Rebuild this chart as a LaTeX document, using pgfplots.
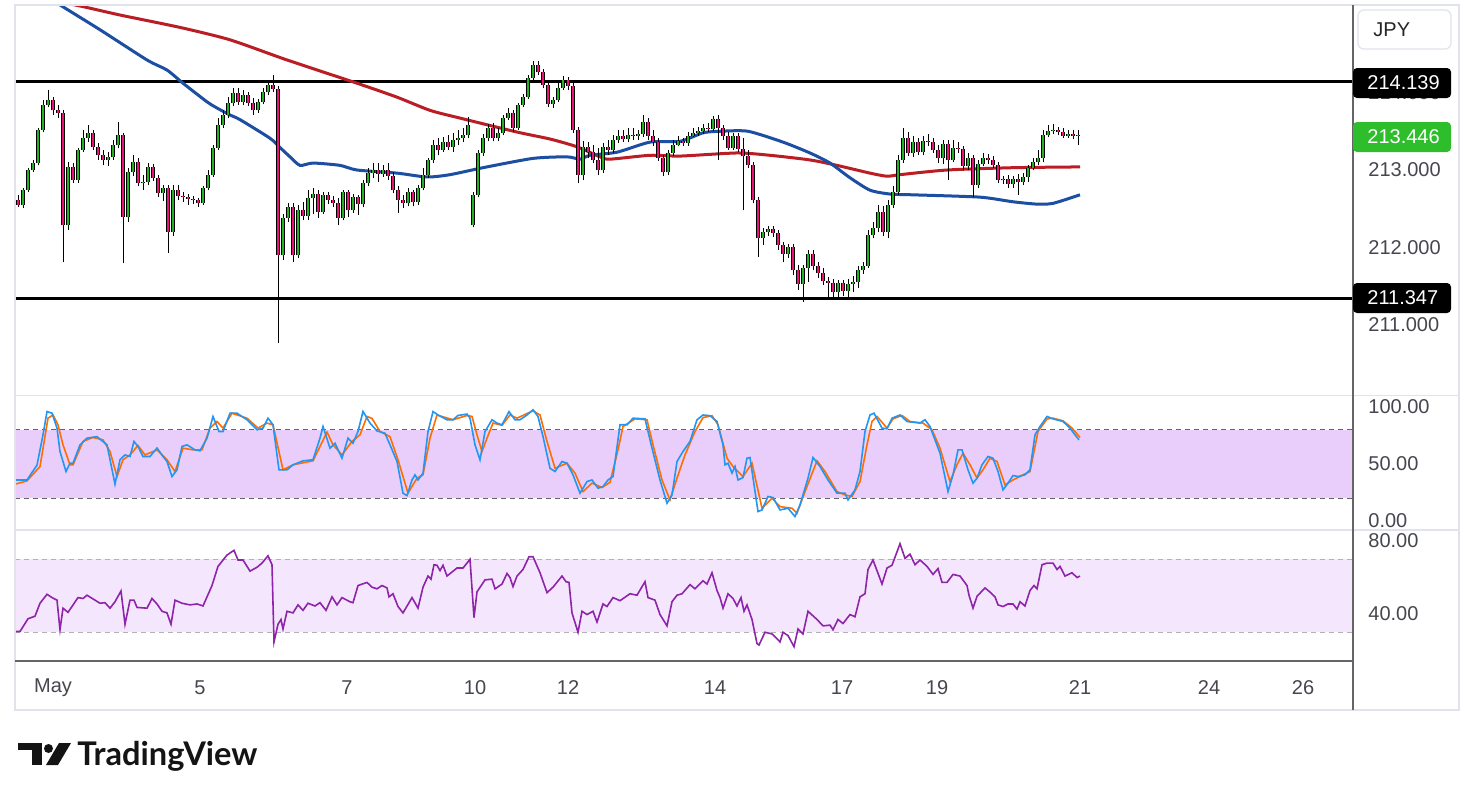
\documentclass[border=0pt]{standalone}
\usepackage{fontspec}
\setmainfont{Liberation Sans}
\newfontfamily\tvlogo{Lato}
\usepackage{pgfplots}
\usepackage{pgfplotstable}
\pgfplotsset{compat=1.18}
\definecolor{cup}{RGB}{38,176,38}
\definecolor{cdn}{RGB}{232,20,120}
\definecolor{mablue}{RGB}{28,78,162}
\definecolor{mared}{RGB}{186,30,36}
\definecolor{stk}{RGB}{33,150,243}
\definecolor{std}{RGB}{255,109,0}
\definecolor{rsic}{RGB}{142,36,170}
\definecolor{stband}{RGB}{233,206,251}
\definecolor{rsiband}{RGB}{244,230,253}
\definecolor{tvtext}{RGB}{70,70,78}
\definecolor{gridl}{RGB}{224,227,235}
\definecolor{axisdark}{RGB}{100,100,105}
\definecolor{pgreen}{RGB}{46,189,43}
\newcommand{\tf}{\fontsize{10}{12}\selectfont}
\pgfplotsset{candle/.style={only marks, mark size=0pt, mark options={draw=none, fill=none}}}

\pgfplotstableread{
x o h l c
18 212.61 212.68 212.52 212.55
23 212.55 212.77 212.51 212.74
28 212.74 213.03 212.72 213.00
33 213.00 213.13 212.97 213.09
38 213.09 213.54 213.06 213.52
43 213.52 213.90 213.49 213.84
48 213.84 214.03 213.81 213.90
53 213.90 213.94 213.71 213.77
58 213.77 213.84 213.67 213.74
63 213.74 213.77 211.81 212.29
68 212.29 213.10 212.23 213.04
73 213.04 213.09 212.83 212.87
78 212.87 213.28 212.83 213.26
83 213.26 213.52 213.23 213.41
88 213.41 213.58 213.36 213.48
93 213.48 213.52 213.26 213.30
98 213.30 213.35 213.13 213.19
103 213.19 213.26 213.06 213.13
108 213.13 213.23 213.05 213.17
113 213.17 213.39 213.13 213.32
118 213.32 213.62 213.28 213.45
123 213.45 213.48 211.80 212.39
128 212.39 213.03 212.33 212.97
133 212.97 213.19 212.92 213.10
138 213.10 213.15 212.79 212.83
143 212.83 212.94 212.74 212.85
148 212.85 213.09 212.81 213.04
153 213.04 213.08 212.86 212.90
158 212.90 212.94 212.65 212.70
163 212.70 212.81 212.60 212.77
168 212.77 212.81 211.93 212.20
173 212.20 212.81 212.15 212.74
178 212.74 212.81 212.61 212.66
183 212.66 212.72 212.59 212.65
188 212.65 212.69 212.55 212.63
193 212.63 212.66 212.56 212.61
198 212.61 212.64 212.52 212.57
203 212.57 212.79 212.55 212.77
208 212.77 213.00 212.74 212.94
213 212.94 213.32 212.91 213.28
218 213.28 213.67 213.26 213.58
223 213.58 213.77 213.54 213.71
228 213.71 213.94 213.67 213.86
233 213.86 214.06 213.83 213.99
238 213.99 214.06 213.84 213.88
243 213.88 214.03 213.84 213.97
248 213.97 214.01 213.83 213.86
253 213.86 213.93 213.71 213.77
258 213.77 213.92 213.74 213.88
263 213.88 214.06 213.85 214.01
268 214.01 214.15 213.97 214.10
273 214.10 214.23 214.01 214.05
278 214.05 214.08 210.77 211.90
283 211.90 212.43 211.84 212.38
288 212.38 212.57 212.33 212.52
293 212.52 212.57 211.81 211.90
298 211.90 212.55 211.86 212.48
303 212.48 212.59 212.35 212.41
308 212.41 212.74 212.35 212.64
313 212.64 212.77 212.43 212.69
318 212.69 212.74 212.38 212.46
323 212.46 212.72 212.43 212.68
328 212.68 212.72 212.56 212.61
333 212.61 212.66 212.52 212.57
338 212.57 212.64 212.29 212.38
343 212.38 212.74 212.35 212.72
348 212.72 212.74 212.39 212.48
353 212.48 212.69 212.45 212.65
358 212.65 212.68 212.42 212.56
363 212.56 212.87 212.52 212.83
368 212.83 213.03 212.79 212.96
373 212.96 213.09 212.90 213.00
378 213.00 213.09 212.85 212.95
383 212.95 213.06 212.91 213.00
388 213.00 213.09 212.87 212.92
393 212.92 212.97 212.70 212.74
398 212.74 212.79 212.45 212.61
403 212.61 212.68 212.51 212.57
408 212.57 212.77 212.53 212.72
413 212.72 212.74 212.53 212.59
418 212.59 212.81 212.55 212.77
423 212.77 213.03 212.74 212.94
428 212.94 213.15 212.90 213.13
433 213.13 213.39 213.09 213.32
438 213.32 213.41 213.19 213.26
443 213.26 213.43 213.23 213.36
448 213.36 213.45 213.26 213.30
453 213.30 213.48 213.23 213.39
458 213.39 213.52 213.32 213.41
463 213.41 213.54 213.36 213.45
468 213.45 213.68 213.41 213.58
473 212.29 212.71 212.26 212.68
478 212.68 213.26 212.65 213.22
483 213.22 213.46 213.18 213.41
488 213.41 213.59 213.37 213.54
493 213.54 213.61 213.37 213.41
498 213.41 213.54 213.37 213.48
503 213.48 213.71 213.45 213.67
508 213.67 213.80 213.65 213.74
513 213.74 213.77 213.49 213.54
518 213.54 213.86 213.52 213.84
523 213.84 213.98 213.81 213.94
528 213.94 214.23 213.92 214.19
533 214.19 214.41 214.16 214.35
538 214.35 214.41 214.23 214.26
543 214.26 214.30 214.06 214.10
548 214.10 214.14 213.81 213.85
553 213.85 213.94 213.80 213.90
558 213.90 214.12 213.88 214.06
563 214.06 214.21 214.03 214.16
568 214.16 214.20 214.03 214.08
573 214.08 214.12 213.48 213.52
578 213.52 213.55 212.83 212.94
583 212.94 213.37 212.87 213.30
588 213.30 213.36 213.15 213.23
593 213.23 213.32 213.09 213.13
598 213.13 213.28 212.94 213.00
603 213.00 213.35 212.96 213.30
608 213.30 213.39 213.19 213.26
613 213.26 213.45 213.22 213.39
618 213.39 213.52 213.35 213.44
623 213.44 213.52 213.36 213.40
628 213.40 213.54 213.36 213.45
633 213.45 213.54 213.39 213.44
638 213.44 213.52 213.39 213.46
643 213.46 213.71 213.43 213.62
648 213.62 213.67 213.39 213.44
653 213.44 213.52 213.31 213.36
658 213.36 213.41 213.12 213.15
663 213.15 213.19 212.92 212.97
668 212.97 213.26 212.94 213.22
673 213.22 213.39 213.18 213.32
678 213.32 213.44 213.31 213.37
683 213.37 213.41 213.31 213.35
688 213.35 213.49 213.31 213.44
693 213.44 213.54 213.43 213.48
698 213.48 213.55 213.44 213.50
703 213.50 213.59 213.46 213.54
708 213.54 213.61 213.49 213.53
713 213.53 213.70 213.50 213.66
718 213.66 213.71 213.13 213.54
723 213.54 213.58 213.39 213.44
728 213.44 213.49 213.26 213.28
733 213.28 213.48 213.26 213.44
738 213.44 213.48 213.23 213.27
743 213.27 213.41 212.48 213.18
748 213.18 213.26 213.03 213.06
753 213.06 213.10 212.57 212.61
758 212.61 212.65 211.88 212.12
763 212.12 212.25 212.03 212.20
768 212.20 212.28 212.15 212.24
773 212.24 212.28 212.14 212.19
778 212.19 212.23 211.97 212.03
783 212.03 212.07 211.81 211.92
788 211.92 212.05 211.86 212.01
793 212.01 212.05 211.65 211.71
798 211.71 211.77 211.45 211.53
803 211.53 211.78 211.30 211.74
808 211.74 211.97 211.56 211.92
813 211.92 211.97 211.71 211.76
818 211.76 211.81 211.61 211.67
823 211.67 211.74 211.52 211.57
828 211.57 211.62 211.36 211.54
833 211.54 211.59 211.32 211.43
838 211.43 211.58 211.35 211.54
843 211.54 211.58 211.37 211.44
848 211.44 211.59 211.36 211.53
853 211.53 211.63 211.43 211.56
858 211.56 211.76 211.48 211.71
863 211.71 211.81 211.66 211.76
868 211.76 212.23 211.74 212.16
873 212.16 212.33 212.12 212.25
878 212.25 212.55 212.20 212.46
883 212.46 212.54 212.15 212.20
888 212.20 212.61 212.12 212.55
893 212.55 212.79 212.51 212.72
898 212.72 213.19 212.68 213.13
903 213.13 213.54 213.09 213.41
908 213.41 213.49 213.18 213.22
913 213.22 213.44 213.17 213.36
918 213.36 213.41 213.19 213.23
923 213.23 213.44 213.19 213.37
928 213.37 213.46 213.31 213.36
933 213.36 213.41 213.22 213.26
938 213.26 213.32 213.09 213.15
943 213.15 213.39 213.08 213.34
948 213.34 213.39 212.87 213.13
953 213.13 213.39 213.10 213.28
958 213.28 213.36 213.22 213.27
963 213.27 213.31 213.00 213.05
968 213.05 213.22 213.00 213.15
973 213.15 213.19 212.65 212.81
978 212.81 213.13 212.77 213.08
983 213.08 213.22 213.05 213.15
988 213.15 213.21 213.08 213.13
993 213.13 213.18 213.03 213.06
998 213.06 213.10 212.83 212.87
1003 212.87 212.92 212.82 212.88
1008 212.88 212.94 212.77 212.82
1013 212.82 212.92 212.77 212.88
1018 212.88 212.95 212.68 212.85
1023 212.85 212.96 212.81 212.91
1028 212.91 213.06 212.85 213.03
1033 213.03 213.15 213.00 213.10
1038 213.10 213.26 213.06 213.15
1043 213.15 213.52 213.10 213.45
1048 213.45 213.58 213.43 213.50
1053 213.50 213.59 213.46 213.52
1058 213.52 213.55 213.45 213.49
1063 213.49 213.54 213.41 213.44
1068 213.44 213.52 213.41 213.46
1073 213.46 213.52 213.40 213.44
1078 213.44 213.51 213.32 213.446
}\candles

\begin{document}
\begin{tikzpicture}
\useasboundingbox (0,0) rectangle (736.5pt,-400pt);
\fill[white] (0,0) rectangle (736.5pt,-400pt);

% ---------- price panel ----------
\begin{axis}[at={(7.5pt,-197.5pt)}, anchor=south west, scale only axis,
  width=669pt, height=195pt,
  xmin=15, xmax=1353, ymin=210.097, ymax=215.129,
  axis line style={draw=none}, major tick length=0pt, tick style={draw=none},
  xtick=\empty, ytick={211,212,213,214},
  yticklabels={211.000,212.000,213.000,214.000},
  yticklabel pos=right,
  yticklabel style={anchor=west, inner sep=0pt, xshift=7.5pt, font=\tf, text=tvtext}]
\addplot[black, line width=1.5pt] coordinates {(15,214.139) (1353,214.139)};
\addplot[black, line width=1.5pt] coordinates {(15,211.347) (1353,211.347)};
\addplot[mared, line width=1.5pt, smooth, tension=0.4] coordinates {
(18,215.26) (75,215.13) (120,215.00) (180,214.84) (230,214.68) (287,214.42)
(357,214.12) (397,213.94) (430,213.77) (460,213.67) (517,213.49) (550,213.40)
(577,213.30) (600,213.17) (610,213.14) (650,213.19) (680,213.18) (737,213.22)
(770,213.19) (810,213.13) (837,213.06) (870,212.96) (887,212.92) (900,212.94)
(947,213.00) (1013,213.03) (1080,213.04)};
\addplot[mablue, line width=1.5pt, smooth, tension=0.4] coordinates {
(40,215.30) (60,215.13) (100,214.81) (147,214.42) (167,214.29) (183,214.12)
(207,213.88) (217,213.80) (230,213.71) (240,213.65) (270,213.41) (280,213.29)
(290,213.17) (300,213.06) (313,213.09) (340,213.06) (357,213.00) (397,212.96)
(427,212.91) (450,212.94) (483,213.03) (533,213.15) (567,213.17) (580,213.14)
(590,213.19) (617,213.23) (650,213.36) (680,213.37) (703,213.48) (720,213.50)
(748,213.50) (783,213.36) (810,213.22) (830,213.09) (850,212.90) (870,212.74)
(890,212.69) (913,212.68) (980,212.65) (1013,212.59) (1037,212.56) (1053,212.57)
(1080,212.68)};
% wicks
\addplot[candle, error bars/.cd, y dir=plus, y explicit, error mark=none,
  error bar style={draw=black, line width=0.5pt}]
  table[x=x, y=l, y error plus expr=\thisrow{h}-\thisrow{l}] {\candles};
% bodies up
\addplot[candle, restrict expr to domain={\thisrow{c}-\thisrow{o}}{0:100},
  error bars/.cd, y dir=plus, y explicit, error mark=none,
  error bar style={draw=black, line width=1.7pt}]
  table[x=x, y=o, y error plus expr=\thisrow{c}-\thisrow{o}] {\candles};
\addplot[candle, restrict expr to domain={\thisrow{c}-\thisrow{o}}{0:100},
  error bars/.cd, y dir=plus, y explicit, error mark=none,
  error bar style={draw=cup, line width=0.9pt}]
  table[x=x, y=o, y error plus expr=\thisrow{c}-\thisrow{o}] {\candles};
% bodies down
\addplot[candle, restrict expr to domain={\thisrow{o}-\thisrow{c}}{0.0001:100},
  error bars/.cd, y dir=plus, y explicit, error mark=none,
  error bar style={draw=black, line width=1.7pt}]
  table[x=x, y=c, y error plus expr=\thisrow{o}-\thisrow{c}] {\candles};
\addplot[candle, restrict expr to domain={\thisrow{o}-\thisrow{c}}{0.0001:100},
  error bars/.cd, y dir=plus, y explicit, error mark=none,
  error bar style={draw=cdn, line width=0.9pt}]
  table[x=x, y=c, y error plus expr=\thisrow{o}-\thisrow{c}] {\candles};
\end{axis}

% ---------- stochastic panel ----------
\begin{axis}[at={(7.5pt,-265pt)}, anchor=south west, scale only axis,
  width=669pt, height=67pt,
  xmin=15, xmax=1353, ymin=-7.9, ymax=109.65,
  axis line style={draw=none}, major tick length=0pt, tick style={draw=none},
  xtick=\empty, ytick={0,50,100}, yticklabels={0.00,50.00,100.00},
  yticklabel pos=right,
  yticklabel style={anchor=west, inner sep=0pt, xshift=7.5pt, font=\tf, text=tvtext}]
\fill[stband] (axis cs:15,20) rectangle (axis cs:1353,80);
\draw[axisdark, line width=0.5pt, dash pattern=on 2.5pt off 2pt] (axis cs:15,80) -- (axis cs:1353,80);
\draw[axisdark, line width=0.5pt, dash pattern=on 2.5pt off 2pt] (axis cs:15,20) -- (axis cs:1353,20);
\addplot[std, line width=0.8pt] coordinates {
(15,32.3) (27,35.2) (40,47.8) (48,90.2) (53,93) (58,84.4) (63,66.8) (70,49.3) (73,49.3)
(83,69.8) (93,73.3) (103,71.2) (110,61) (117,39) (123,53.7) (130,58) (138,66.2) (145,58)
(157,62.4) (167,53.7) (175,43.4) (183,63.9) (193,62.4) (202,62.4) (210,81.5) (217,87.3)
(223,81.5) (232,94.6) (247,90.2) (258,81.5) (267,85.9) (273,84.4) (283,44.9) (293,49.3)
(313,52.8) (320,65.4) (327,78) (333,66.8) (342,58) (352,69.8) (360,75.6) (367,91.7)
(372,90) (380,78.5) (390,74) (398,53.7) (408,24.4) (417,37.6) (423,40.5) (430,72.7)
(437,93) (453,88.8) (467,92.6) (472,91.7) (477,75.6) (482,61) (487,72.7) (493,85.9)
(502,84) (510,93) (517,90.2) (533,96.7) (540,93) (547,69.8) (555,46.3) (567,50.7)
(575,42) (583,25.8) (592,33.2) (602,29.4) (610,34) (618,62.4) (623,82.9) (635,89.6)
(647,88.8) (653,66.8) (662,36) (670,18.5) (677,37.6) (685,58) (695,78.5) (703,90.7)
(712,92.4) (718,84.4) (727,55.1) (733,47.8) (743,39) (752,50.7) (762,11.2) (772,20)
(780,12.6) (792,11.2) (797,6.8) (805,25.8) (817,52.8) (825,43.4) (837,25.8) (845,22.9)
(852,21.5) (860,34.6) (867,66.8) (872,87.3) (877,91.7) (887,81.5) (893,89.6) (902,92.6)
(910,87.3) (923,85.9) (932,80) (940,63.9) (950,34.6) (957,49.3) (963,59.5) (970,49.3)
(977,37.6) (983,44.9) (990,55.1) (997,52.2) (1005,31.7) (1013,36) (1023,40.5) (1030,43.4)
(1038,78.5) (1047,89.6) (1053,90.2) (1063,87.9) (1072,81.5) (1080,73.3)};
\addplot[stk, line width=0.8pt] coordinates {
(15,36) (27,36) (37,49) (43,75.6) (47,96) (52,94.6) (57,81.5) (60,61) (66,43.4) (70,50.7)
(73,50.7) (80,66.8) (87,72.7) (97,74) (107,66.8) (115,32.3) (120,53.7) (125,58) (130,56.6)
(134,69.8) (138,65.4) (143,56.6) (150,56.6) (157,64) (163,56.6) (167,52.2) (172,39) (177,44.9)
(182,65.4) (187,66.8) (195,62.4) (200,61.6) (207,72.7) (213,91.7) (219,78.5) (223,78.5)
(230,94.6) (237,94.6) (247,88.8) (257,80) (263,81.5) (268,90.2) (273,84.4) (277,58) (279,44.9)
(287,44.9) (293,49.3) (303,52.8) (313,53.7) (320,72.7) (323,82.9) (330,63.9) (335,68.3)
(342,55.1) (348,72.7) (353,68.3) (358,78.5) (363,96.1) (370,85.9) (377,79) (385,77) (390,66.8)
(397,52.2) (403,24.4) (407,22.3) (412,36) (415,40.5) (418,36) (423,42) (428,78.5) (433,96)
(438,93) (447,88.8) (453,88.8) (458,92.6) (467,93.8) (470,90.2) (475,66.8) (480,53.7)
(485,78.5) (492,88.8) (497,85.9) (502,84.4) (509,96) (515,88.8) (520,88.8) (527,93)
(533,97.6) (538,91.7) (543,74.1) (550,46.3) (555,43.4) (562,52.2) (567,50.7) (573,40.5)
(580,24.4) (587,34.6) (592,36) (598,28.8) (603,30.2) (608,36) (613,39) (620,84.4) (627,84.4)
(633,90.2) (645,89.6) (652,63.9) (660,36) (667,15.6) (672,22.9) (677,52.2) (683,61) (690,69.8)
(697,88.8) (703,93) (710,92.4) (717,87.3) (723,66.8) (725,49.3) (728,50.7) (732,42) (735,47.8)
(738,36) (743,38.1) (747,55.1) (750,55.7) (758,8.3) (762,9.7) (768,21.5) (773,20.6) (780,9.7)
(788,11.2) (795,3.9) (800,14.1) (808,37.6) (813,55.7) (820,47.8) (828,36) (837,24.4) (845,24.4)
(848,18.5) (855,27.3) (860,43.4) (865,78.5) (870,93) (874,94.6) (882,81.5) (887,80.9) (892,90.2)
(900,93) (907,87.3) (920,85.9) (925,88.8) (930,82.9) (940,59.5) (948,25.8) (953,40.5) (958,62.4)
(962,62.4) (968,44.9) (973,33.2) (977,37.6) (982,49.3) (988,56.6) (993,55.1) (998,43.4)
(1003,27.3) (1008,33.2) (1013,39.9) (1018,39) (1025,40.5) (1030,44.9) (1035,75.6) (1040,82.9)
(1047,91.7) (1053,89.6) (1063,87.3) (1070,81.5) (1075,75.6) (1079,71.2)};
\end{axis}

% ---------- RSI panel ----------
\begin{axis}[at={(7.5pt,-330pt)}, anchor=south west, scale only axis,
  width=669pt, height=65pt,
  xmin=15, xmax=1353, ymin=14.79, ymax=86.03,
  axis line style={draw=none}, major tick length=0pt, tick style={draw=none},
  ytick={40,80}, yticklabels={40.00,80.00},
  yticklabel pos=right,
  yticklabel style={anchor=west, inner sep=0pt, xshift=7.5pt, font=\tf, text=tvtext},
  xtick={53,200,347,475,568,715,842,937,1080,1209,1303},
  xticklabels={May,5,7,10,12,14,17,19,21,24,26},
  xticklabel style={anchor=center, yshift=-14pt, font=\tf, text=tvtext}]
\fill[rsiband] (axis cs:15,30) rectangle (axis cs:1353,70);
\draw[gray!60, line width=0.5pt, dash pattern=on 2.5pt off 2pt] (axis cs:15,70) -- (axis cs:1353,70);
\draw[gray!60, line width=0.5pt, dash pattern=on 2.5pt off 2pt] (axis cs:15,30) -- (axis cs:1353,30);
\addplot[rsic, line width=0.8pt] coordinates {
(15,30.4) (20,30.4) (28,37.4) (35,38.8) (40,45.9) (47,50.8) (52,49) (57,47.6) (60,31.4)
(63,43.2) (68,40.9) (78,49) (83,48.5) (87,50.3) (100,45.9) (105,46.2) (110,43.2) (115,46.7)
(121,52.6) (125,34.4) (130,47.6) (134,47.6) (137,43.6) (147,43.2) (152,48.5) (157,45.5)
(162,41.5) (167,40.6) (171,34.4) (175,47.6) (182,45.9) (190,45) (197,45.5) (203,44.4)
(212,55.6) (218,66.1) (227,72.3) (234,74.9) (238,69.6) (243,69.6) (250,63.5) (257,65.6)
(262,67.9) (268,71.9) (272,67) (274,24.7) (278,34.4) (281,37) (283,31.8) (287,41.5)
(293,40.6) (298,45) (303,42) (308,45.9) (315,44.4) (320,46.2) (326,42) (332,49.4) (337,45)
(342,49) (350,46.7) (353,46.2) (358,55.6) (367,57.3) (372,54.7) (377,53.8) (382,55.6)
(387,54.3) (389,49.4) (393,51.1) (398,44.1) (403,40.6) (412,49) (418,43.2) (423,54.7)
(428,60.8) (431,59.1) (434,67) (437,66.7) (440,63.8) (443,66.7) (447,60.8) (457,65.2)
(463,65.2) (467,67.9) (470,70) (474,38) (477,52.1) (485,58.7) (492,59.1) (495,53.8)
(502,56.4) (507,62.2) (510,60) (513,55) (517,60.8) (523,64.4) (529,71.4) (533,71.4)
(540,62.6) (547,51.7) (553,54.7) (562,60.8) (566,57.7) (569,57.3) (572,40.6) (578,30)
(582,41.5) (587,39.7) (593,41.5) (597,35.6) (603,45.5) (607,44.1) (613,49) (620,47.3)
(630,51.1) (637,50.3) (645,57.7) (648,49) (655,47.6) (660,39.7) (667,33.5) (672,46.7)
(677,50.3) (682,51.1) (690,56.1) (695,53.8) (703,58.2) (707,56.4) (712,62.6) (717,52.9)
(720,49) (723,43.2) (728,51.1) (733,48.5) (737,44.4) (741,49) (744,41.5) (747,45) (752,37)
(757,23.8) (759,23) (765,30) (772,29.1) (777,26.5) (780,24.7) (783,30) (788,28.2) (794,22.1)
(798,31.8) (803,29.1) (808,41.5) (817,37) (823,33.5) (830,33.9) (833,31.4) (838,37) (843,34.8)
(850,39.7) (855,38.5) (860,49.4) (865,51.1) (868,64.4) (873,69.6) (882,56.4) (887,65.2)
(892,66.7) (900,78.5) (905,70.5) (910,72.8) (915,67) (920,69.6) (927,66.1) (933,61.7)
(938,64.9) (942,57.3) (947,57.3) (953,61.7) (960,60.8) (967,55.6) (969,50.3) (973,43.2)
(977,49.7) (985,54.3) (990,52) (995,49.4) (998,45) (1003,44.1) (1008,45.5) (1013,45.5)
(1017,42.7) (1020,46.7) (1025,44.4) (1030,52.9) (1034,55.6) (1037,53.8) (1042,67) (1047,67.9)
(1053,67.9) (1057,64.4) (1060,66.1) (1065,60.8) (1072,62.6) (1077,60) (1080,60.8)};
\end{axis}

% ---------- frame, separators, labels, logo ----------
\begin{scope}[x=0.5pt, y=-0.5pt]
\draw[gridl, line width=0.6pt] (15,5) rectangle (1459,710);
\draw[gridl, line width=0.6pt] (15,395.5) -- (1459,395.5);
\draw[gridl, line width=0.6pt] (15,530) -- (1459,530);
\draw[axisdark, line width=0.6pt] (1353,5) -- (1353,710);
\draw[axisdark, line width=0.6pt] (15,661) -- (1353,661);
% JPY box
\draw[gridl, line width=0.6pt, rounded corners=3pt, fill=white] (1358,10) rectangle (1451,49);
\node[anchor=west, inner sep=0pt, font=\tf, text=black!85] at (1373,30) {JPY};
% price boxes
\fill[black, rounded corners=2pt] (1353,68) rectangle (1451,98);
\node[anchor=west, inner sep=0pt, font=\tf, text=white] at (1367,83) {214.139};
\fill[pgreen, rounded corners=2pt] (1353,122) rectangle (1451,152);
\node[anchor=west, inner sep=0pt, font=\tf, text=white] at (1367,137) {213.446};
\fill[black, rounded corners=2pt] (1353,283) rectangle (1451,313);
\node[anchor=west, inner sep=0pt, font=\tf, text=white] at (1367,298) {211.347};
% TradingView logo
\fill[black!92] (18,743) rectangle (42,750);
\fill[black!92] (32,743) rectangle (42,765);
\fill[black!92] (48.5,748.5) circle (4.5);
\fill[black!92] (59,743) -- (71,743) -- (58,765) -- (46,765) -- cycle;
\node[anchor=base west, inner sep=0pt, text=black!92] at (77,765) {\tvlogo\bfseries\fontsize{16.3}{19}\selectfont TradingView};
\end{scope}
\end{tikzpicture}
\end{document}
